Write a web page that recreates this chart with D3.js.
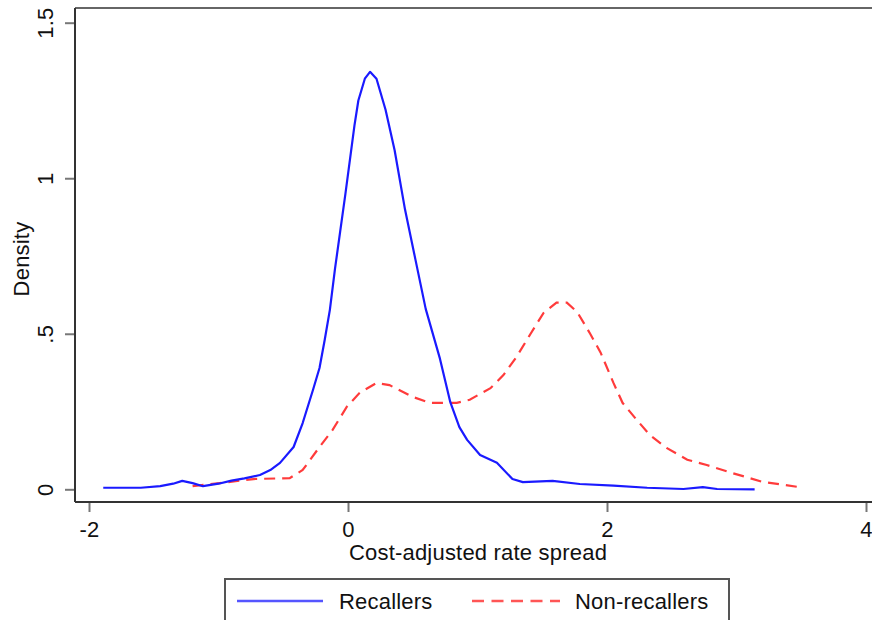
<!DOCTYPE html>
<html>
<head>
<meta charset="utf-8">
<script src="https://cdn.jsdelivr.net/npm/d3@7"></script>
<style>
  html, body { margin: 0; padding: 0; background: #fff; }
  svg { display: block; font-family: "Liberation Sans", Arial, sans-serif; }
</style>
</head>
<body>
<svg id="chart" width="872" height="620"></svg>
<script>
// ---- data ----
const seriesNames = ["Recallers", "Non-recallers"];
const xTicks = [-2, 0, 2, 4];
const yTicks = [0, 0.5, 1, 1.5];
const yTickLabels = ["0", ".5", "1", "1.5"];

const recallersX = [-1.89, -1.6, -1.45, -1.35, -1.28, -1.2, -1.12, -1.0, -0.9, -0.8, -0.68, -0.6, -0.525, -0.42, -0.35, -0.27, -0.22, -0.18, -0.14, -0.1, -0.06, -0.02, 0.015, 0.05, 0.08, 0.13, 0.17, 0.22, 0.29, 0.36, 0.44, 0.52, 0.6, 0.71, 0.79, 0.86, 0.92, 1.02, 1.15, 1.27, 1.35, 1.58, 1.79, 2.05, 2.31, 2.59, 2.74, 2.85, 3.14];
const recallersY = [0.005, 0.005, 0.01, 0.018, 0.027, 0.02, 0.01, 0.018, 0.028, 0.035, 0.046, 0.062, 0.085, 0.136, 0.213, 0.32, 0.39, 0.48, 0.577, 0.71, 0.83, 0.95, 1.06, 1.17, 1.25, 1.32, 1.342, 1.32, 1.22, 1.09, 0.9, 0.74, 0.58, 0.42, 0.28, 0.2, 0.159, 0.11, 0.085, 0.033, 0.023, 0.027, 0.017, 0.012, 0.005, 0.001, 0.007, 0.001, 0.0];

const nonRecallersX = [-1.2, -0.99, -0.73, -0.45, -0.35, -0.22, -0.12, -0.01, 0.09, 0.22, 0.32, 0.5, 0.63, 0.84, 0.94, 1.1, 1.2, 1.3, 1.41, 1.51, 1.61, 1.69, 1.77, 1.87, 1.95, 2.05, 2.12, 2.23, 2.33, 2.46, 2.62, 2.77, 2.97, 3.2, 3.47];
const nonRecallersY = [0.01, 0.02, 0.033, 0.036, 0.062, 0.136, 0.19, 0.265, 0.31, 0.342, 0.335, 0.297, 0.278, 0.278, 0.288, 0.325, 0.367, 0.425, 0.5, 0.567, 0.6, 0.6, 0.57, 0.5, 0.44, 0.342, 0.278, 0.223, 0.175, 0.133, 0.095, 0.078, 0.052, 0.024, 0.008];

// ---- layout ----
const svg = d3.select("#chart");
const pLeft = 75, pTop = 8, pBottom = 502, pRight = 872;
const x = d3.scaleLinear().domain([-2, 4]).range([89, 866]);
const y = d3.scaleLinear().domain([0, 1.5]).range([489.3, 22.7]);

const axisColor = "#333";
const tickColor = "#777";
const fontSize = 22;
const ls = "0.2px";

// frame: top line, left axis, bottom axis
svg.append("line").attr("x1", pLeft).attr("x2", pRight).attr("y1", pTop).attr("y2", pTop)
  .attr("stroke", axisColor).attr("stroke-width", 1.5);
svg.append("line").attr("x1", pLeft).attr("x2", pLeft).attr("y1", pTop).attr("y2", pBottom)
  .attr("stroke", axisColor).attr("stroke-width", 2);
svg.append("line").attr("x1", pLeft).attr("x2", pRight).attr("y1", pBottom).attr("y2", pBottom)
  .attr("stroke", axisColor).attr("stroke-width", 2);

// y axis ticks via d3 axis
const yAxis = d3.axisLeft(y).tickValues(yTicks).tickSize(9).tickPadding(0)
  .tickFormat((d, i) => yTickLabels[i]);
const gy = svg.append("g").attr("transform", `translate(${pLeft - 1},0)`).call(yAxis);
gy.select(".domain").remove();
gy.selectAll(".tick line").attr("stroke", tickColor).attr("stroke-width", 2);
gy.selectAll(".tick text")
  .attr("x", 0).attr("dy", 0).attr("y", 0)
  .attr("transform", "translate(-21,0) rotate(-90)")
  .attr("text-anchor", "middle")
  .attr("font-size", fontSize).attr("fill", "#111").attr("letter-spacing", ls)
  .attr("font-family", "'Liberation Sans', Arial, sans-serif");

// x axis ticks
const xAxis = d3.axisBottom(x).tickValues(xTicks).tickSize(9).tickPadding(0)
  .tickFormat(d3.format("d"));
const gx = svg.append("g").attr("transform", `translate(0,${pBottom + 1})`).call(xAxis);
gx.select(".domain").remove();
gx.selectAll(".tick line").attr("stroke", tickColor).attr("stroke-width", 2);
gx.selectAll(".tick text")
  .attr("y", 34).attr("dy", 0)
  .attr("font-size", fontSize).attr("fill", "#111").attr("letter-spacing", ls)
  .attr("font-family", "'Liberation Sans', Arial, sans-serif")
  .text(d => d < 0 ? "-" + Math.abs(d) : String(d));

// axis titles
svg.append("text").attr("x", 478).attr("y", 560).attr("text-anchor", "middle")
  .attr("font-size", fontSize).attr("letter-spacing", ls).attr("fill", "#111").text("Cost-adjusted rate spread");
svg.append("text").attr("transform", "translate(29,259) rotate(-90)").attr("text-anchor", "middle")
  .attr("font-size", fontSize).attr("letter-spacing", ls).attr("fill", "#111").text("Density");

// lines
const line = d3.line().x(d => x(d[0])).y(d => y(d[1]));
const recallers = recallersX.map((v, i) => [v, recallersY[i]]);
const nonRecallers = nonRecallersX.map((v, i) => [v, nonRecallersY[i]]);

const blue = "#1a1aff";
const red = "#ff3b3b";

svg.append("path").datum(nonRecallers).attr("d", line).attr("fill", "none")
  .attr("stroke", red).attr("stroke-width", 2.2).attr("stroke-dasharray", "11,7");
svg.append("path").datum(recallers).attr("d", line).attr("fill", "none")
  .attr("stroke", blue).attr("stroke-width", 2.2).attr("stroke-linejoin", "round");

// legend
const lg = svg.append("g");
lg.append("rect").attr("x", 225).attr("y", 579).attr("width", 504).attr("height", 60)
  .attr("fill", "#fff").attr("stroke", "#555").attr("stroke-width", 2);
lg.append("line").attr("x1", 237).attr("x2", 323).attr("y1", 601).attr("y2", 601)
  .attr("stroke", "#5555ff").attr("stroke-width", 2.5);
lg.append("text").attr("x", 339).attr("y", 609).attr("font-size", fontSize).attr("letter-spacing", ls).attr("fill", "#111").text(seriesNames[0]);
lg.append("line").attr("x1", 472).attr("x2", 560).attr("y1", 601).attr("y2", 601)
  .attr("stroke", "#ff5555").attr("stroke-width", 2.5).attr("stroke-dasharray", "12,7.5");
lg.append("text").attr("x", 575).attr("y", 609).attr("font-size", fontSize).attr("letter-spacing", ls).attr("fill", "#111").text(seriesNames[1]);
</script>
</body>
</html>
